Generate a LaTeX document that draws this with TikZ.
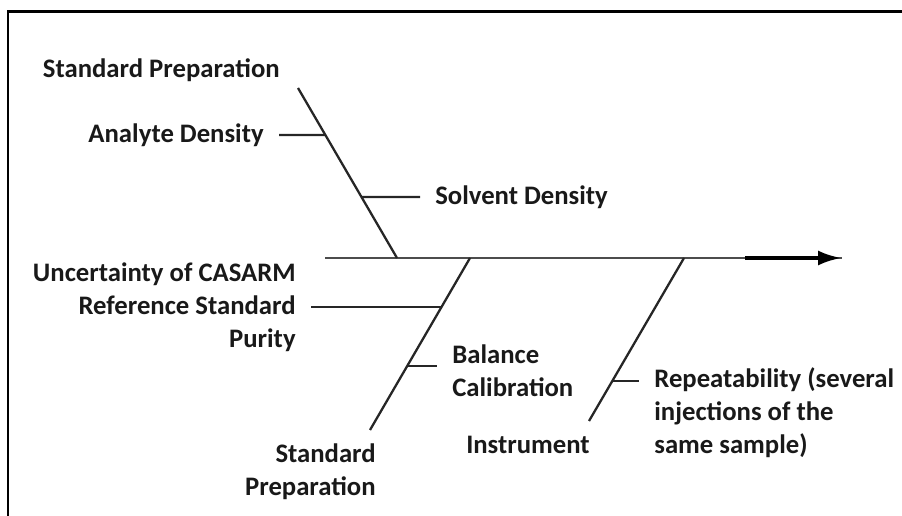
\documentclass[tikz,border=0pt]{standalone}
\usepackage{fontspec}
\setmainfont{Carlito}
\usetikzlibrary{arrows.meta, calc}

\begin{document}
\begin{tikzpicture}[x=0.02cm, y=-0.02cm, >={Latex[length=0.48cm,width=0.3cm]},
    font=\fontsize{15.2}{18.8}\selectfont\bfseries]

    % --- Cadre ---
    \useasboundingbox (0,0) rectangle (902,516);
    \draw[line width=1.7pt] (8,516) -- (8,12) -- (902,12);

    % --- Styles ---
    \tikzstyle{bone} = [line width=1.3pt, black!85]
    \tikzstyle{spine} = [line width=1.5pt, black!70]
    \tikzstyle{lbl} = [inner xsep=0.3cm, inner ysep=0pt, text=black!90]

    % --- Arete principale ---
    \coordinate (tail) at (325,258);
    \coordinate (thick) at (745,258);
    \coordinate (head) at (842,258);
    \draw[spine] (tail) -- (head);
    \draw[line width=2.4pt, ->] (thick) -- (head);

    % --- Arete haut gauche ---
    \coordinate (sp_top) at (298,88);
    \coordinate (sp_join) at (397,258);
    \draw[bone] (sp_top) -- (sp_join)
        coordinate[pos=0.276] (ad_pt)
        coordinate[pos=0.641] (sd_pt);

    \node[lbl, anchor=east] (std_prep_top) at (295,70) {Standard Preparation};
    \node[lbl, anchor=east] (analyte) at (279,135) {Analyte Density};
    \draw[bone] (ad_pt) -- (analyte.east);
    \node[lbl, anchor=west] (solvent) at (420,197) {Solvent Density};
    \draw[bone] (sd_pt) -- (solvent.west);

    % --- Arete bas gauche ---
    \coordinate (ref_join) at (470,258);
    \coordinate (ref_end) at (370,430);
    \draw[bone] (ref_join) -- (ref_end)
        coordinate[pos=0.285] (rs_pt)
        coordinate[pos=0.628] (bc_pt);

    \node[lbl, anchor=east, align=right] (refstd) at (311,307)
        {Uncertainty of CASARM\\Reference Standard\\Purity};
    \draw[bone] (rs_pt) -- (rs_pt -| refstd.east);
    \node[lbl, anchor=west, align=left] (balance) at (437,371) {Balance\\Calibration};
    \draw[bone] (bc_pt) -- (bc_pt -| balance.west);
    \node[lbl, anchor=east, align=right] (std_prep_bot) at (391,472) {Standard\\Preparation};

    % --- Arete bas droite ---
    \coordinate (ins_join) at (684,258);
    \coordinate (ins_end) at (589,421);
    \draw[bone] (ins_join) -- (ins_end)
        coordinate[pos=0.755] (rp_pt);

    \node[lbl, anchor=west, align=left] (rep_lbl) at (639,413)
        {Repeatability (several\\injections of the\\same sample)};
    \draw[bone] (rp_pt) -- (rp_pt -| rep_lbl.west);
    \node[lbl, anchor=east] (instrument) at (605,445) {Instrument};

\end{tikzpicture}
\end{document}
